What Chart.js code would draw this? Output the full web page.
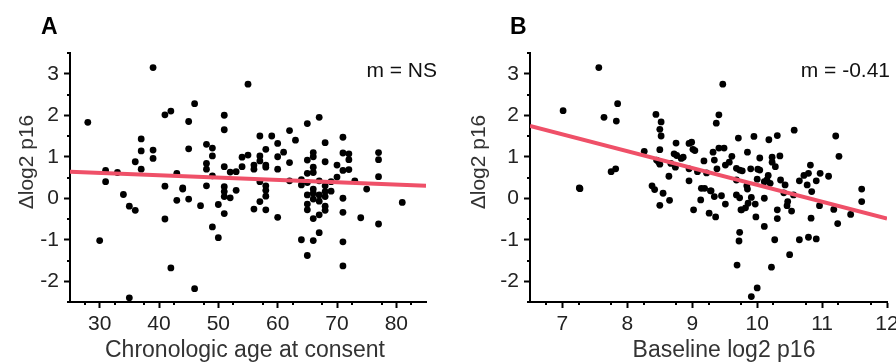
<!DOCTYPE html>
<html>
<head>
<meta charset="utf-8">
<script src="https://cdn.jsdelivr.net/npm/chart.js@4/dist/chart.umd.min.js"></script>
<style>
  body { margin: 0; background: #fff; }
  #wrap { position: relative; width: 896px; height: 363px; overflow: hidden; }
  canvas { position: absolute; top: 0; }
</style>
</head>
<body>
<div id="wrap">
  <canvas id="chartA" width="448" height="363" style="left:0"></canvas>
  <canvas id="chartB" width="448" height="363" style="left:448px"></canvas>
</div>
<script>
// panel A: age at consent vs change in log2 p16
let ageA = [
  28, 30, 31, 31, 33, 34, 35, 35, 36, 36, 37, 37, 37, 39, 39, 39, 41, 41, 41,
  42, 42, 43, 43, 44, 44, 45, 45, 45, 46, 46, 47, 48, 48, 48, 48, 49, 49, 49,
  49, 50, 50, 51, 51, 51, 51, 51, 51, 51, 52, 52, 53, 53, 54, 54, 55, 55, 56,
  56, 56, 57, 57, 57, 57, 57, 58, 58, 58, 58, 58, 58, 58, 59, 60, 60, 60, 60,
  61, 62, 62, 62, 63, 64, 64, 64, 65, 65, 65, 65, 65, 65, 65, 65, 66, 66, 66,
  66, 66, 66, 66, 66, 66, 67, 67, 67, 67, 67, 67, 68, 68, 68, 68, 68, 68, 68,
  69, 69, 70, 70, 71, 71, 71, 71, 71, 71, 71, 72, 72, 72, 73, 74, 75, 77, 77,
  77, 77, 81,
];
let deltaA = [
  1.83, -1.02, 0.67, 0.4, 0.62, 0.09, -0.19, -2.4, -0.29, 0.88, 1.43, 1.14,
  0.7, 3.15, 1.16, 0.96, 2.01, 0.29, -0.5, 2.1, -1.68, 0.6, -0.05, 0.25, 0.22,
  1.85, 1.19, -0.02, 2.28, -2.18, -0.18, 1.3, 0.84, 0.7, 0.3, 1.21, 1.02, 0.54,
  -0.69, -0.15, -0.95, 2.0, 1.65, 0.76, 0.28, 0.16, 0.04, -0.37, 0.63, 0.01,
  0.64, 0.19, 0.99, 0.76, 2.75, 1.04, 0.8, 0.7, -0.26, 1.5, 1.02, 0.9, 0.4,
  -0.08, 1.18, 0.8, 0.75, 0.3, 0.19, 0.05, -0.28, 1.5, 1.32, 1.0, 0.7, -0.46,
  1.11, 1.63, 0.86, 0.42, 1.4, -1.0, 0.45, 0.32, 1.8, 0.92, 0.6, 0.38, 0.08,
  -0.14, -0.28, -1.38, 1.1, 1.0, 0.75, 0.62, 0.22, 0.12, -0.02, -0.49, -1.02,
  1.95, 0.42, 0.08, -0.07, -0.4, -0.83, 1.34, 0.88, 0.3, 0.16, 0.04, -0.19,
  -0.29, 0.4, 0.17, 0.8, 0.51, 1.47, 1.09, 0.67, 0.0, -0.34, -1.05, -1.63,
  1.07, 0.93, 0.69, 0.42, -0.47, 0.22, 1.1, 0.93, 0.52, -0.62, -0.1,
];
let fitXA = [25, 85];
let fitYA = [0.64, 0.3];

// panel B: baseline log2 p16 vs change in log2 p16
let baseB = [
  7.01, 7.26, 7.56, 7.64, 7.83, 7.85, 7.75, 7.82, 8.26, 8.38, 8.42, 8.44, 8.52,
  8.5, 8.52, 8.5, 8.45, 8.5, 8.48, 8.55, 8.5, 8.64, 8.65, 8.75, 8.72, 8.76,
  8.74, 8.67, 8.83, 8.86, 8.95, 8.99, 9.01, 9.04, 8.95, 8.95, 9.08, 9.14, 9.19,
  9.13, 9.02, 9.18, 9.22, 9.29, 9.26, 9.47, 9.41, 9.37, 9.41, 9.49, 9.32, 9.34,
  9.38, 9.51, 9.57, 9.61, 9.68, 9.73, 9.77, 9.68, 9.28, 9.34, 9.36, 9.45, 9.51,
  9.68, 9.73, 9.75, 9.71, 9.85, 9.95, 9.9, 10.01, 10.04, 9.84, 9.85, 9.91,
  9.86, 9.97, 9.82, 9.76, 9.98, 10.0, 10.04, 10.11, 10.15, 10.17, 10.18,
  10.23, 10.23, 10.35, 10.31, 10.28, 10.2, 10.11, 10.36, 10.43, 10.41, 10.47,
  10.46, 10.31, 10.31, 10.53, 10.56, 10.57, 10.65, 10.72, 10.79, 10.82, 10.77,
  10.84, 10.91, 10.97, 11.1, 10.83, 10.96, 11.18, 11.24, 11.21, 11.26, 11.44,
  11.61, 11.61, 10.27, 10.65, 10.79, 10.91, 9.73, 9.72, 9.69, 10.11, 10.5,
  10.22, 10.0, 9.91, 7.27,
];
let deltaB = [
  2.11, 0.25, 3.15, 1.95, 1.86, 2.28, 0.64, 0.71, 1.13, 0.3, 0.21, 2.02, 1.84,
  1.66, 1.5, 1.17, 0.92, 0.82, 0.88, 0.12, -0.17, 0.53, -0.05, 1.33, 1.07,
  1.03, 0.75, 0.84, 0.96, 0.99, 1.32, 1.35, 1.18, 1.15, 0.71, 0.42, 0.64, 0.24,
  0.24, -0.04, -0.28, 0.9, 0.61, 0.18, -0.36, 2.75, 2.01, 1.81, 1.21, 1.21,
  1.11, 0.92, 0.71, 0.8, 0.87, 1.01, 0.72, 0.68, 0.66, 0.44, 0.18, 0.04, -0.45,
  0.06, -0.14, 0.08, 0.01, -0.28, 1.45, 1.11, 1.49, 0.71, 0.7, 0.68, 0.3, 0.22,
  0.02, -0.12, -0.14, -0.23, -0.28, -0.45, 0.46, 0.97, 0.4, 0.44, 0.55, 1.41,
  0.99, 0.87, 1.02, 1.51, 0.76, 0.36, 0.0, 0.44, 0.32, 0.13, -0.08, -0.18,
  -0.28, -0.49, -0.31, 0.08, 1.64, 0.42, 0.55, 0.6, 0.8, 0.32, 0.16, 0.42, 0.6,
  0.53, -0.48, -0.18, -0.27, -0.61, 1.5, 1.01, -0.39, 0.22, -0.08, -1.0, -1.0,
  -0.94, -0.98, -0.82, -1.03, -1.61, -0.68, -1.36, -1.66, -2.16, -2.37, 0.23,
];
let fitXB = [6.5, 12];
let fitYB = [1.74, -0.49];

// tick labels
let yTicks = [-2, -1, 0, 1, 2, 3];
let xTicksA = [30, 40, 50, 60, 70, 80];
let xTicksB = [7, 8, 9, 10, 11, 12];

Chart.defaults.font.family = 'Arial, "Liberation Sans", sans-serif';
Chart.defaults.color = "#222";

// short minor ticks halfway between the major ones + free text
let extras = {
  id: "extras",
  afterDraw(chart, args, opts) {
    let c = chart.ctx;
    let a = chart.chartArea;
    let sx = chart.scales.x;
    let sy = chart.scales.y;
    c.save();
    c.strokeStyle = "#000";
    c.lineWidth = 2;
    for (let v = sx.min + opts.xMinor / 2; v <= sx.max + 1e-9; v += opts.xMinor) {
      if (Math.abs(v - Math.round(v / opts.xMajor) * opts.xMajor) < 1e-6) continue;
      let px = Math.round(sx.getPixelForValue(v));
      c.beginPath();
      c.moveTo(px, a.bottom);
      c.lineTo(px, a.bottom + 3);
      c.stroke();
    }
    for (let v = sy.min; v <= sy.max + 1e-9; v += 0.5) {
      if (Math.abs(v - Math.round(v)) < 1e-6) continue;
      let py = Math.round(sy.getPixelForValue(v));
      c.beginPath();
      c.moveTo(a.left, py);
      c.lineTo(a.left - 3, py);
      c.stroke();
    }
    // panel letter
    c.fillStyle = "#000";
    c.font = 'bold 23px Arial, "Liberation Sans", sans-serif';
    c.textAlign = "left";
    c.textBaseline = "alphabetic";
    c.fillText(opts.panel, opts.panelX, 34);
    // slope note
    c.fillStyle = "#111";
    c.font = '21px Arial, "Liberation Sans", sans-serif';
    c.textAlign = "right";
    c.fillText(opts.note, opts.noteX, 77);
    // x title
    c.fillStyle = "#333";
    c.font = '23px Arial, "Liberation Sans", sans-serif';
    c.textAlign = "center";
    c.fillText(opts.xTitle, opts.xTitleX, 357);
    // y title
    c.font = '21px Arial, "Liberation Sans", sans-serif';
    c.translate(opts.yTitleX, 162);
    c.rotate(-Math.PI / 2);
    c.textBaseline = "middle";
    c.fillText("\u0394log2 p16", 0, 0);
    c.restore();
  },
};

function makeChart(id, xs, ys, fx, fy, xMin, xMax, xTicks, axisWidth, padRight, text) {
  let ctx = document.getElementById(id).getContext("2d");
  return new Chart(ctx, {
    type: "scatter",
    data: {
      datasets: [
        {
          type: "line",
          data: fx.map((v, i) => ({ x: v, y: fy[i] })),
          borderColor: "#ef5068",
          borderWidth: 4,
          pointRadius: 0,
          tension: 0,
          order: 0,
        },
        {
          data: xs.map((v, i) => ({ x: v, y: ys[i] })),
          backgroundColor: "#000",
          borderWidth: 0,
          pointRadius: 3.4,
          order: 1,
        },
      ],
    },
    options: {
      responsive: false,
      animation: false,
      events: [],
      layout: { padding: { left: 0, top: 53, right: padRight, bottom: 0 } },
      plugins: { legend: { display: false }, tooltip: { enabled: false }, extras: text },
      scales: {
        x: {
          type: "linear",
          min: xMin,
          max: xMax,
          afterBuildTicks: (s) => { s.ticks = xTicks.map((v) => ({ value: v })); },
          afterFit: (s) => { s.height = 61; s.paddingLeft = 0; s.paddingRight = 0; },
          grid: { drawOnChartArea: false, tickLength: 6, tickWidth: 2, tickColor: "#000" },
          border: { color: "#000", width: 2 },
          ticks: { font: { size: 21 }, padding: 4, maxRotation: 0, autoSkip: false },
        },
        y: {
          min: -2.5,
          max: 3.5,
          afterBuildTicks: (s) => { s.ticks = yTicks.map((v) => ({ value: v })); },
          afterFit: (s) => { s.width = axisWidth; s.paddingTop = 0; s.paddingBottom = 0; },
          grid: { drawOnChartArea: false, tickLength: 6, tickWidth: 2, tickColor: "#000" },
          border: { color: "#000", width: 2 },
          ticks: { font: { size: 21 }, padding: 5 },
        },
      },
    },
    plugins: [extras],
  });
}

let chartA = makeChart("chartA", ageA, deltaA, fitXA, fitYA, 25, 85, xTicksA, 70, 22, {
  panel: "A", panelX: 41, note: "m = NS", noteX: 437,
  xTitle: "Chronologic age at consent", xTitleX: 245, yTitleX: 27,
  xMajor: 10, xMinor: 5,
});
let chartB = makeChart("chartB", baseB, deltaB, fitXB, fitYB, 6.5, 12, xTicksB, 82, 9, {
  panel: "B", panelX: 62, note: "m = -0.41", noteX: 442,
  xTitle: "Baseline log2 p16", xTitleX: 276, yTitleX: 31,
  xMajor: 1, xMinor: 0.5,
});
</script>
</body>
</html>
